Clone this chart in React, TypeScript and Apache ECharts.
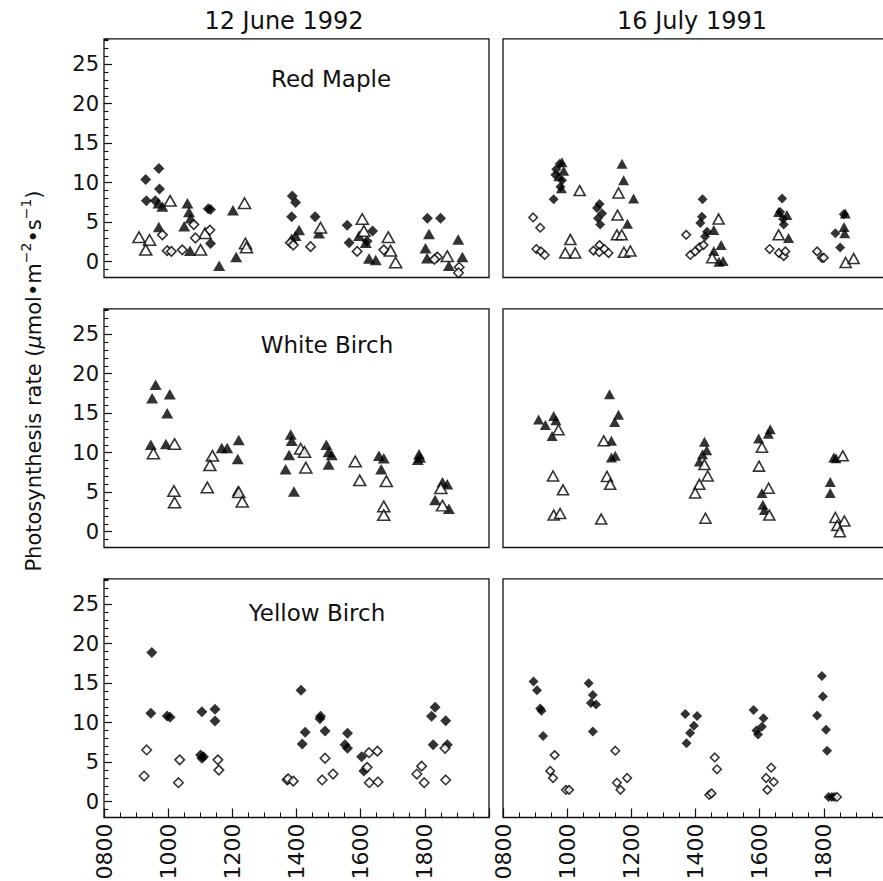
import React, { useEffect, useRef } from 'react';
import * as echarts from 'echarts';

// ---------- text ----------
const COLUMN_TITLES = ['12 June 1992', '16 July 1991'];
const SPECIES = ['Red Maple', 'White Birch', 'Yellow Birch'];
const Y_TITLE = 'Photosynthesis rate ({mu|\u03bc}{t|mol\u2022m}{sup|\u22122}{t|\u2022s}{sup|\u22121}{t|)}';

// ---------- axes ----------
const X_MIN = 8;
const X_MAX = 20;
const X_STEP = 2;
const X_TICK_LABELS: Record<number, string> = { 8: '0800', 10: '1000', 12: '1200', 14: '1400', 16: '1600', 18: '1800' };
const Y_MIN = -2;
const Y_MAX = 28.2;
const Y_TICKS = [0, 5, 10, 15, 20, 25];
const Y_MINOR_STEP = 1;

// ---------- data: [time of day (h), rate] ----------
// Red Maple, 12 June 1992
const rmJunFilledDiamond = [[9.3, 10.4], [9.71, 11.8], [9.73, 9.2], [9.32, 7.7], [9.6, 7.7], [11.25, 6.7], [11.32, 6.6], [11.32, 2.3], [13.87, 8.3], [13.97, 7.5], [13.85, 5.7], [14.58, 5.7], [15.58, 4.6], [15.64, 2.4], [16.37, 3.9], [16.2, 2.6], [18.08, 5.5], [18.49, 5.5]];
const rmJunFilledTriangle = [[9.71, 4.4], [9.7, 7.4], [9.82, 7.0], [10.6, 7.4], [10.65, 6.3], [10.7, 5.5], [10.5, 4.5], [10.68, 1.4], [11.59, -0.5], [12.02, 6.5], [12.12, 0.6], [14.08, 4.0], [13.97, 3.3], [13.85, 2.9], [14.7, 3.6], [15.95, 3.3], [16.16, 2.4], [16.26, 0.4], [16.47, 0.2], [18.13, 3.5], [18.02, 1.7], [18.07, 0.45], [19.04, 2.8], [19.17, 0.6], [18.75, -0.5]];
const rmJunOpenTriangle = [[9.09, 3.1], [9.42, 2.75], [9.3, 1.5], [10.06, 7.7], [11.01, 1.5], [11.15, 3.6], [12.38, 7.4], [12.41, 2.3], [12.44, 1.8], [14.75, 4.3], [16.05, 5.4], [16.1, 3.9], [16.86, 3.1], [16.93, 1.4], [17.09, -0.1], [18.7, 0.7]];
const rmJunOpenDiamond = [[9.82, 3.4], [9.97, 1.4], [10.1, 1.3], [10.44, 1.5], [10.8, 4.7], [10.85, 3.0], [11.3, 4.0], [13.81, 2.4], [13.9, 2.1], [14.44, 1.9], [15.89, 1.3], [16.72, 1.5], [18.39, 0.6], [18.3, 0.3], [19.07, -0.7], [19.05, -1.4]];

// Red Maple, 16 July 1991
const rmJulOpenDiamond = [[8.94, 5.6], [9.16, 4.3], [9.04, 1.6], [9.18, 1.3], [9.3, 0.85], [10.82, 1.4], [11.01, 2.1], [11.0, 1.2], [11.16, 1.6], [11.29, 1.1], [13.71, 3.4], [13.84, 0.85], [13.99, 1.3], [14.13, 1.85], [14.25, 2.1], [16.31, 1.6], [16.6, 1.1], [16.75, 0.7], [16.8, 1.3], [17.79, 1.3], [17.94, 0.5], [18.0, 0.5]];
const rmJulFilledDiamond = [[9.58, 7.9], [9.77, 12.4], [9.63, 11.0], [9.66, 11.7], [9.84, 10.3], [9.79, 9.5], [11.01, 7.3], [10.93, 6.8], [11.09, 6.1], [10.96, 5.5], [11.03, 4.7], [14.22, 7.9], [14.2, 5.7], [14.15, 4.9], [14.36, 3.8], [14.3, 3.2], [16.7, 8.0], [16.64, 6.3], [16.75, 4.7], [16.73, 5.4], [18.51, 1.8], [18.62, 6.0], [18.36, 3.6]];
const rmJulFilledTriangle = [[9.84, 12.6], [9.89, 11.5], [9.74, 10.8], [9.82, 9.3], [11.71, 12.4], [11.76, 10.3], [12.07, 8.0], [11.88, 4.8], [14.57, 1.35], [14.8, 2.1], [14.86, 0.1], [14.73, 0.0], [14.57, 4.0], [16.59, 6.3], [16.85, 5.9], [16.9, 3.0], [18.63, 4.4], [18.65, 3.6], [18.67, 6.1]];
const rmJulOpenTriangle = [[10.39, 9.0], [10.1, 2.8], [9.94, 1.1], [10.25, 1.1], [11.6, 8.7], [11.57, 5.9], [11.55, 3.4], [11.7, 3.4], [11.77, 1.2], [11.97, 1.35], [14.72, 5.4], [14.52, 0.5], [16.59, 3.4], [18.68, -0.1], [18.93, 0.4]];

// White Birch, 12 June 1992
const wbJunFilledTriangle = [[9.5, 16.9], [9.61, 18.6], [10.05, 17.4], [9.97, 15.0], [9.46, 11.0], [9.93, 11.1], [11.67, 10.6], [11.84, 10.6], [12.2, 11.6], [12.17, 9.2], [12.17, 5.15], [13.82, 12.3], [13.85, 11.5], [13.77, 9.7], [13.66, 7.9], [13.92, 5.1], [14.93, 11.0], [15.0, 10.1], [15.1, 9.7], [15.0, 8.5], [16.57, 9.6], [16.72, 9.3], [16.64, 7.9], [17.82, 9.8], [17.85, 9.4], [17.78, 9.1], [18.32, 4.0], [18.55, 6.25], [18.7, 6.0], [18.75, 2.9]];
const wbJunOpenTriangle = [[9.54, 9.9], [10.2, 11.1], [10.18, 5.15], [10.2, 3.7], [11.38, 9.6], [11.3, 8.4], [11.22, 5.6], [12.2, 5.0], [12.31, 3.8], [14.13, 10.5], [14.25, 10.1], [14.29, 8.1], [15.83, 8.9], [15.97, 6.5], [16.8, 6.4], [16.72, 3.2], [16.72, 2.1], [18.5, 5.5], [18.55, 3.3]];

// White Birch, 16 July 1991
const wbJulFilledTriangle = [[9.11, 14.2], [9.32, 13.5], [9.58, 14.65], [9.65, 14.1], [9.53, 12.1], [11.32, 17.4], [11.6, 14.8], [11.48, 13.9], [11.38, 11.5], [11.5, 9.6], [11.38, 9.4], [14.28, 11.4], [14.35, 10.3], [14.22, 9.8], [14.12, 8.9], [15.97, 11.8], [16.33, 12.96], [16.27, 12.4], [16.07, 4.9], [16.1, 3.4], [16.15, 2.75], [18.31, 9.4], [18.38, 9.3], [18.2, 6.3], [18.2, 4.9]];
const wbJulOpenTriangle = [[9.73, 12.9], [9.56, 7.05], [9.87, 5.3], [9.58, 2.1], [9.78, 2.3], [11.14, 11.5], [11.24, 7.0], [11.34, 6.0], [11.06, 1.6], [14.28, 8.5], [14.38, 7.05], [14.12, 6.0], [13.99, 4.9], [14.31, 1.7], [16.07, 10.7], [15.98, 8.3], [16.28, 5.5], [16.3, 2.1], [18.59, 9.6], [18.36, 1.8], [18.64, 1.35], [18.42, 0.8], [18.5, 0.0]];

// Yellow Birch, 12 June 1992
const ybJunFilledDiamond = [[9.49, 18.9], [9.46, 11.2], [9.97, 10.85], [10.06, 10.7], [11.05, 11.4], [11.46, 11.7], [11.46, 10.2], [11.01, 5.9], [11.1, 5.7], [11.05, 5.5], [14.14, 14.1], [14.27, 8.8], [14.18, 7.3], [14.75, 10.8], [14.73, 10.5], [14.89, 8.95], [15.59, 8.65], [15.51, 7.2], [15.59, 6.75], [16.03, 5.7], [16.1, 3.9], [18.21, 10.8], [18.32, 11.95], [18.65, 10.25], [18.26, 7.2], [18.7, 7.2]];
const ybJunOpenDiamond = [[9.33, 6.55], [9.25, 3.25], [10.36, 5.3], [10.32, 2.4], [11.55, 5.3], [11.58, 4.0], [13.71, 2.75], [13.74, 2.9], [13.9, 2.6], [14.89, 5.5], [14.8, 2.75], [15.14, 3.5], [16.2, 4.35], [16.26, 6.2], [16.27, 2.4], [16.52, 6.4], [16.54, 2.5], [17.75, 3.5], [17.9, 4.5], [17.98, 2.4], [18.63, 6.75], [18.65, 2.75]];

// Yellow Birch, 16 July 1991
const ybJulFilledDiamond = [[8.95, 15.2], [9.06, 14.1], [9.16, 11.8], [9.2, 11.5], [9.25, 8.3], [10.67, 15.0], [10.8, 13.5], [10.74, 12.5], [10.9, 12.3], [10.8, 8.9], [13.68, 11.1], [14.05, 10.85], [13.95, 9.6], [13.83, 8.7], [13.72, 7.4], [15.81, 11.6], [16.12, 10.55], [16.07, 9.5], [15.9, 9.0], [15.95, 8.5], [17.94, 15.9], [17.97, 13.3], [17.79, 10.9], [18.07, 9.1], [18.1, 6.45], [18.15, 0.6], [18.25, 0.6], [18.33, 0.6]];
const ybJulOpenDiamond = [[9.61, 5.9], [9.47, 3.9], [9.56, 3.0], [9.96, 1.5], [10.06, 1.5], [11.5, 6.45], [11.55, 2.4], [11.66, 1.5], [11.87, 3.0], [14.6, 5.6], [14.67, 4.1], [14.43, 0.85], [14.5, 1.05], [16.2, 3.0], [16.36, 4.3], [16.44, 2.5], [16.24, 1.5], [18.41, 0.6]];

type Kind = 'fd' | 'od' | 'ft' | 'ot';
const PANELS: { row: number; col: number; sets: [Kind, number[][]][] }[] = [
  { row: 0, col: 0, sets: [['ft', rmJunFilledTriangle], ['fd', rmJunFilledDiamond], ['ot', rmJunOpenTriangle], ['od', rmJunOpenDiamond]] },
  { row: 0, col: 1, sets: [['ft', rmJulFilledTriangle], ['fd', rmJulFilledDiamond], ['ot', rmJulOpenTriangle], ['od', rmJulOpenDiamond]] },
  { row: 1, col: 0, sets: [['ft', wbJunFilledTriangle], ['ot', wbJunOpenTriangle]] },
  { row: 1, col: 1, sets: [['ft', wbJulFilledTriangle], ['ot', wbJulOpenTriangle]] },
  { row: 2, col: 0, sets: [['fd', ybJunFilledDiamond], ['od', ybJunOpenDiamond]] },
  { row: 2, col: 1, sets: [['fd', ybJulFilledDiamond], ['od', ybJulOpenDiamond]] },
];

const FONT = "'DejaVu Sans', 'Liberation Sans', sans-serif";
const INK = '#111';
const ROW_TOP = [38.9, 308.9, 578.9];
const PANEL_H = 238.6;
const COL_LEFT = [104, 503];
const PANEL_W = 385;

function buildOption() {
  const grid: any[] = [];
  const xAxis: any[] = [];
  const yAxis: any[] = [];
  const series: any[] = [];
  PANELS.forEach((p, i) => {
    const bottomRow = p.row === 2;
    const leftCol = p.col === 0;
    grid.push({
      left: COL_LEFT[p.col],
      width: PANEL_W,
      top: ROW_TOP[p.row],
      height: PANEL_H,
      show: true,
      borderColor: INK,
      borderWidth: 1.3,
      backgroundColor: 'transparent',
      containLabel: false,
      outerBoundsMode: 'none',
    });
    xAxis.push({
      type: 'value',
      gridIndex: i,
      position: 'bottom',
      min: X_MIN,
      max: X_MAX,
      interval: X_STEP,
      axisLine: { show: false, onZero: false },
      axisTick: { show: bottomRow, inside: true, length: 9, lineStyle: { color: INK, width: 1.2 } },
      minorTick: { show: bottomRow, splitNumber: 4, length: 5, lineStyle: { color: INK, width: 1.1 } },
      axisLabel: {
        show: bottomRow,
        rotate: 90,
        margin: 6,
        fontSize: 22,
        fontFamily: FONT,
        color: INK,
        formatter: (v: number) => X_TICK_LABELS[v] ?? '',
      },
      splitLine: { show: false },
      minorSplitLine: { show: false },
    });
    // minor ticks every unit (min -2 is a multiple of the step)
    yAxis.push({
      type: 'value',
      gridIndex: i,
      position: 'left',
      min: Y_MIN,
      max: Y_MAX,
      interval: Y_MINOR_STEP,
      axisLine: { show: false, onZero: false },
      axisTick: { show: leftCol, inside: true, length: 4.5, lineStyle: { color: INK, width: 1.1 } },
      axisLabel: { show: false },
      splitLine: { show: false },
    });
    // major ticks + labels at the listed values
    yAxis.push({
      type: 'value',
      gridIndex: i,
      position: 'left',
      offset: 0,
      min: Y_MIN,
      max: Y_MAX,
      interval: Y_MINOR_STEP,
      axisLine: { show: false, onZero: false },
      axisTick: { show: leftCol, inside: true, length: 8, customValues: Y_TICKS, lineStyle: { color: INK, width: 1.2 } },
      axisLabel: { show: leftCol, customValues: Y_TICKS, margin: 5, fontSize: 21, fontFamily: FONT, color: INK },
      splitLine: { show: false },
    });
    const yIdx = i * 2;
    p.sets.forEach(([kind, data]) => {
      const filled = kind === 'fd' || kind === 'ft';
      const diamond = kind === 'fd' || kind === 'od';
      let size: number | number[];
      if (diamond) size = leftCol ? (filled ? 11 : 9.5) : (filled ? 10 : 8.5);
      else size = leftCol ? [12, 10.5] : [11, 10];
      series.push({
        type: 'scatter',
        xAxisIndex: i,
        yAxisIndex: yIdx,
        data,
        symbol: diamond ? 'diamond' : 'triangle',
        symbolSize: size,
        silent: true,
        itemStyle: filled
          ? { color: '#000', borderWidth: 0 }
          : { color: '#fff', borderColor: '#000', borderWidth: 1.6 },
        emphasis: { disabled: true },
      });
    });
  });

  const graphic: any[] = [
    { type: 'text', x: 284, y: 21, style: { text: COLUMN_TITLES[0], fontSize: 24, fontFamily: FONT, fill: INK, align: 'center', verticalAlign: 'middle' } },
    { type: 'text', x: 692, y: 21, style: { text: COLUMN_TITLES[1], fontSize: 24, fontFamily: FONT, fill: INK, align: 'center', verticalAlign: 'middle' } },
    { type: 'text', x: 331, y: 79, style: { text: SPECIES[0], fontSize: 23, fontFamily: FONT, fill: INK, align: 'center', verticalAlign: 'middle' } },
    { type: 'text', x: 327, y: 345, style: { text: SPECIES[1], fontSize: 23, fontFamily: FONT, fill: INK, align: 'center', verticalAlign: 'middle' } },
    { type: 'text', x: 317, y: 613, style: { text: SPECIES[2], fontSize: 23, fontFamily: FONT, fill: INK, align: 'center', verticalAlign: 'middle' } },
    {
      type: 'text',
      x: 34,
      y: 381,
      rotation: Math.PI / 2,
      style: {
        text: Y_TITLE,
        fontSize: 21,
        fontFamily: FONT,
        fill: INK,
        lineHeight: 30,
        align: 'center',
        verticalAlign: 'middle',
        rich: {
          t: { fontSize: 21, fontFamily: FONT, fill: INK, lineHeight: 30 },
          mu: { fontSize: 21, fontFamily: FONT, fontStyle: 'italic', fill: INK, lineHeight: 30 },
          sup: { fontSize: 14, fontFamily: FONT, fill: INK, lineHeight: 14, verticalAlign: 'top' },
        },
      },
    },
  ];

  return {
    animation: false,
    backgroundColor: '#fff',
    grid,
    xAxis,
    yAxis,
    series,
    graphic,
  };
}

export default function App() {
  const ref = useRef<HTMLDivElement>(null);
  useEffect(() => {
    if (!ref.current) return;
    const chart = echarts.init(ref.current, undefined, { renderer: 'svg' });
    chart.setOption(buildOption() as any);
    return () => chart.dispose();
  }, []);
  return (
    <div
      ref={ref}
      style={{ position: 'absolute', left: 0, top: 0, width: 883, height: 881, background: '#fff' }}
    />
  );
}
